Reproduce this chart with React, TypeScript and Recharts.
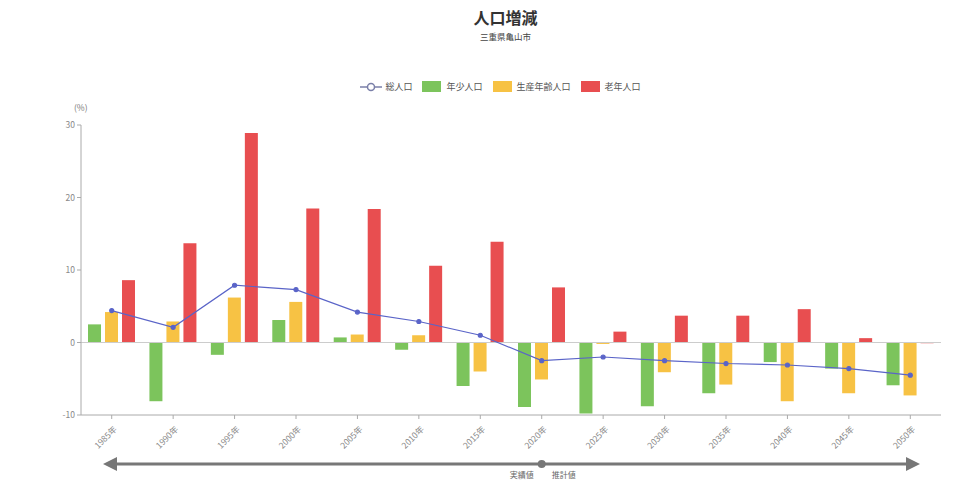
import { ComposedChart, Bar, Line, XAxis, YAxis, ReferenceLine } from "recharts"

const years = ["1985年", "1990年", "1995年", "2000年", "2005年", "2010年", "2015年", "2020年", "2025年", "2030年", "2035年", "2040年", "2045年", "2050年"]
const totalPop = [4.4, 2.1, 7.9, 7.3, 4.2, 2.9, 1.0, -2.5, -2.0, -2.5, -2.9, -3.1, -3.6, -4.5]
const youngPop = [2.5, -8.1, -1.7, 3.1, 0.7, -1.0, -6.0, -8.9, -9.8, -8.8, -7.0, -2.7, -3.6, -5.9]
const workingPop = [4.2, 2.9, 6.2, 5.6, 1.1, 1.0, -4.0, -5.1, -0.2, -4.1, -5.8, -8.1, -7.0, -7.3]
const elderlyPop = [8.6, 13.7, 28.9, 18.5, 18.4, 10.6, 13.9, 7.6, 1.5, 3.7, 3.7, 4.6, 0.6, -0.1]
const yTicks = [-10, 0, 10, 20, 30]
const splitYear = "2020年"

const data = years.map((y, i) => ({
  year: y,
  total: totalPop[i],
  young: youngPop[i],
  working: workingPop[i],
  elderly: elderlyPop[i],
}))

const FONT = "'Noto Sans CJK JP', 'Noto Sans', sans-serif"
const W = 969
const H = 495
const PLOT_LEFT = 81
const PLOT_RIGHT = 941

const COLORS = {
  total: "#5a64c8",
  young: "#7cc45c",
  working: "#f7c244",
  elderly: "#e84e50",
}

const XTick = ({ x, y, payload }: any) => (
  <g transform={`translate(${x + 3},${y + 6})`}>
    <text transform="rotate(-45)" textAnchor="end" fontSize={8.5} fill="#888" dy={4} fontFamily={FONT}>
      {payload.value}
    </text>
  </g>
)

function LegendBar() {
  const items = [
    { label: "年少人口", color: COLORS.young },
    { label: "生産年齢人口", color: COLORS.working },
    { label: "老年人口", color: COLORS.elderly },
  ]
  return (
    <div style={{ position: "absolute", top: 80, left: 0, width: W, display: "flex", justifyContent: "center", paddingLeft: 42, boxSizing: "border-box", fontSize: 9, color: "#555", fontFamily: FONT }}>
      <div style={{ display: "flex", alignItems: "center", marginRight: 10 }}>
        <svg width={22} height={12}>
          <line x1={0} y1={6} x2={22} y2={6} stroke="#7a7fa8" strokeWidth={1.5} />
          <circle cx={11} cy={6} r={3.5} fill="#fff" stroke="#7a7fa8" strokeWidth={1.5} />
        </svg>
        <span style={{ marginLeft: 3 }}>総人口</span>
      </div>
      {items.map((it) => (
        <div key={it.label} style={{ display: "flex", alignItems: "center", marginRight: 10 }}>
          <div style={{ width: 19, height: 11, background: it.color }} />
          <span style={{ marginLeft: 5 }}>{it.label}</span>
        </div>
      ))}
    </div>
  )
}

function PeriodArrow() {
  const idx = years.indexOf(splitYear)
  const band = (PLOT_RIGHT - PLOT_LEFT) / years.length
  const splitX = PLOT_LEFT + (idx + 0.5) * band
  const y = 464
  const x1 = 103
  const x2 = 920
  return (
    <svg width={W} height={H} style={{ position: "absolute", left: 0, top: 0, pointerEvents: "none" }}>
      <line x1={x1 + 10} y1={y} x2={x2 - 10} y2={y} stroke="#777" strokeWidth={3} />
      <polygon points={`${x1},${y} ${x1 + 14},${y - 7} ${x1 + 14},${y + 7}`} fill="#777" />
      <polygon points={`${x2},${y} ${x2 - 14},${y - 7} ${x2 - 14},${y + 7}`} fill="#777" />
      <circle cx={splitX} cy={y} r={4} fill="#777" />
      <text x={splitX - 8} y={478} textAnchor="end" fontSize={8} fill="#666" fontFamily={FONT}>実績値</text>
      <text x={splitX + 10} y={478} textAnchor="start" fontSize={8} fill="#666" fontFamily={FONT}>推計値</text>
    </svg>
  )
}

export default function App() {
  return (
    <div style={{ position: "relative", width: W, height: H, margin: -8, background: "#fff", fontFamily: FONT }}>
      <div style={{ position: "absolute", top: 6, left: 0, width: W, paddingLeft: 42, boxSizing: "border-box", textAlign: "center" }}>
        <div style={{ fontSize: 16, fontWeight: "bold", color: "#333", lineHeight: "22px" }}>人口増減</div>
        <div style={{ fontSize: 8.5, color: "#444", lineHeight: "10px", marginTop: 3 }}>三重県亀山市</div>
      </div>
      <LegendBar />
      <div style={{ position: "absolute", left: 74, top: 101, fontSize: 8.5, color: "#777" }}>(%)</div>
      <div style={{ position: "absolute", left: 0, top: 0 }}>
        <ComposedChart
          width={W}
          height={H}
          data={data}
          margin={{ top: 125, right: W - PLOT_RIGHT, bottom: 30, left: PLOT_LEFT - 40 }}
          barSize={13}
          barGap={4}
        >
          <XAxis
            dataKey="year"
            height={50}
            interval={0}
            tick={<XTick />}
            tickSize={4}
            axisLine={{ stroke: "#aaa" }}
            tickLine={{ stroke: "#aaa" }}
          />
          <YAxis
            width={40}
            domain={[-10, 30]}
            ticks={yTicks}
            tick={{ fontSize: 8.5, fill: "#888", fontFamily: FONT }}
            tickSize={4}
            axisLine={{ stroke: "#aaa" }}
            tickLine={{ stroke: "#aaa" }}
          />
          <ReferenceLine y={0} stroke="#ccc" />
          <Bar dataKey="young" fill={COLORS.young} isAnimationActive={false} />
          <Bar dataKey="working" fill={COLORS.working} isAnimationActive={false} />
          <Bar dataKey="elderly" fill={COLORS.elderly} isAnimationActive={false} />
          <Line
            dataKey="total"
            stroke={COLORS.total}
            strokeWidth={1.2}
            dot={{ r: 2, fill: COLORS.total, stroke: COLORS.total }}
            isAnimationActive={false}
          />
        </ComposedChart>
      </div>
      <PeriodArrow />
    </div>
  )
}
